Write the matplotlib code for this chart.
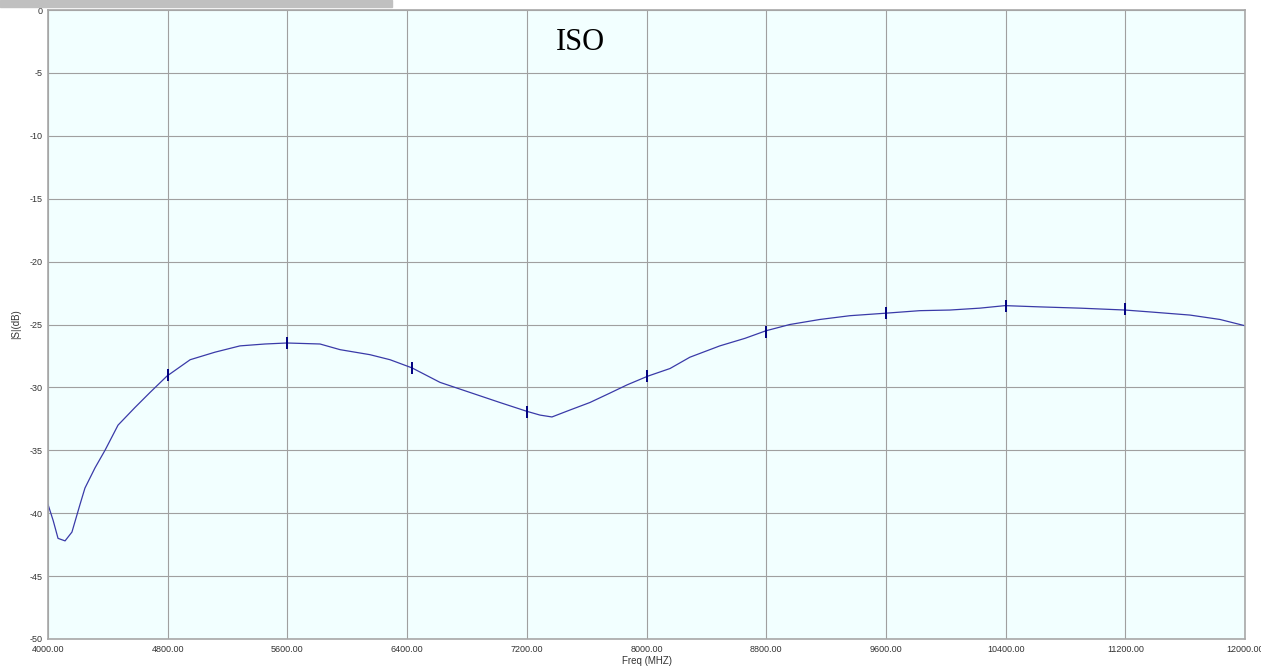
import matplotlib.pyplot as plt
from matplotlib.patches import Rectangle

# trace
freq_mhz = [4000, 4035, 4067, 4114, 4160, 4214, 4247, 4314, 4381, 4468, 4581, 4682,
            4795, 4950, 5116, 5283, 5450, 5597, 5818, 5952, 6152, 6286, 6433, 6620,
            6820, 7020, 7200, 7288, 7368, 7488, 7622, 7756, 7870, 8010, 8157, 8290,
            8490, 8658, 8798, 8958, 9159, 9360, 9600, 9827, 10028, 10228, 10396,
            10630, 10897, 11198, 11365, 11632, 11833, 12000]
iso_db = [-39.3, -40.6, -42.0, -42.2, -41.5, -39.3, -38.0, -36.4, -35.0, -33.0, -31.6, -30.4,
          -29.1, -27.8, -27.2, -26.7, -26.55, -26.47, -26.55, -27.0, -27.4, -27.8, -28.45, -29.6,
          -30.4, -31.2, -31.9, -32.2, -32.35, -31.8, -31.2, -30.45, -29.8, -29.1, -28.5, -27.6,
          -26.7, -26.1, -25.5, -25.0, -24.6, -24.3, -24.1, -23.9, -23.85, -23.7, -23.5,
          -23.6, -23.7, -23.85, -24.0, -24.25, -24.6, -25.1]

marker_freq = [4800, 5600, 6430, 7200, 8000, 8800, 9600, 10400, 11200]
marker_db = [-29.0, -26.45, -28.45, -31.95, -29.1, -25.6, -24.05, -23.5, -23.8]

x_ticks = [4000, 4800, 5600, 6400, 7200, 8000, 8800, 9600, 10400, 11200, 12000]
y_ticks = [0, -5, -10, -15, -20, -25, -30, -35, -40, -45, -50]

plt.rcParams['font.family'] = ['Liberation Sans', 'DejaVu Sans']

fig = plt.figure(figsize=(12.61, 6.70), dpi=100)
ax = fig.add_axes([48 / 1261, 1 - 639 / 670, 1197 / 1261, 629 / 670])
ax.set_facecolor('#f2ffff')

ax.plot(freq_mhz, iso_db, color='#3a3aa8', linewidth=0.9)
ax.plot(marker_freq, marker_db, linestyle='none', marker='|', markersize=8,
        markeredgewidth=1.4, color='#000080')

ax.set_xlim(4000, 12000)
ax.set_ylim(-50, 0)
ax.set_xticks(x_ticks)
ax.set_xticklabels([f"{x:.2f}" for x in x_ticks])
ax.set_yticks(y_ticks)
ax.set_yticklabels([str(y) for y in y_ticks])
ax.tick_params(length=0, labelsize=6.5, colors='#333333', pad=4)
ax.grid(True, color='#a0a0a0', linewidth=0.8)
ax.set_axisbelow(True)
for s in ax.spines.values():
    s.set_color('#a8a8a8')
    s.set_linewidth(1.2)

ax.set_xlabel("Freq (MHZ)", fontsize=7, color='#333333', labelpad=2)
ax.set_ylabel("|S|(dB)", fontsize=7, color='#333333', labelpad=6)

ax.text(0.445, 0.948, "ISO", transform=ax.transAxes, ha='center', va='center',
        fontsize=22, family='Liberation Serif', color='black')

# gray strip at top left
fig.patches.append(Rectangle((0, 1 - 7 / 670), 392 / 1261, 7 / 670,
                             transform=fig.transFigure, color='#c0c0c0', zorder=5))

plt.savefig("out.png", dpi=100)
